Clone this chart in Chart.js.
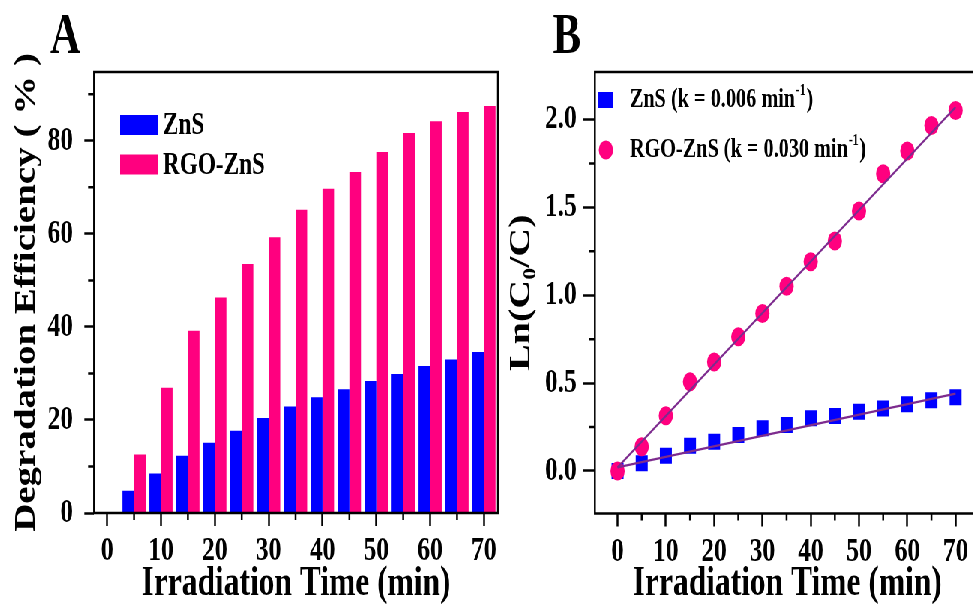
<!DOCTYPE html>
<html>
<head>
<meta charset="utf-8">
<script src="https://cdn.jsdelivr.net/npm/chart.js@4/dist/chart.umd.min.js"></script>
<style>
  body { margin: 0; background: #fff; }
  #outer { width: 973px; height: 605px; overflow: hidden; position: relative; background: #fff; }
  /* the original figure is squeezed sideways, so draw wide and compress */
  #wrap { position: absolute; left: 0; top: 0; width: 1340px; height: 605px; transform: scaleX(0.75); transform-origin: 0 0; }
  #chartA { position: absolute; left: 0; top: 0; }
  #chartB { position: absolute; left: 660px; top: 0; }
</style>
</head>
<body>
<div id="outer">
  <div id="wrap">
    <canvas id="chartA" width="700" height="605"></canvas>
    <canvas id="chartB" width="660" height="605"></canvas>
  </div>
</div>
<script>
// ---- panel A: degradation efficiency (%)
const timesA = [5, 10, 15, 20, 25, 30, 35, 40, 45, 50, 55, 60, 65, 70];
const znsEfficiency = [4.8, 8.5, 12.3, 15.1, 17.7, 20.4, 22.9, 24.9, 26.6, 28.4, 29.9, 31.6, 33.0, 34.6];
const rgoEfficiency = [12.6, 26.9, 39.2, 46.3, 53.5, 59.3, 65.2, 69.7, 73.3, 77.6, 81.7, 84.2, 86.2, 87.5];

// ---- panel B: Ln(C0/C)
const timesB = [0, 5, 10, 15, 20, 25, 30, 35, 40, 45, 50, 55, 60, 65, 70];
const znsLn = [0.0, 0.044, 0.087, 0.144, 0.166, 0.205, 0.243, 0.261, 0.30, 0.313, 0.337, 0.356, 0.38, 0.403, 0.419];
const rgoLn = [0.0, 0.138, 0.314, 0.507, 0.62, 0.763, 0.896, 1.051, 1.19, 1.308, 1.479, 1.691, 1.82, 1.966, 2.051];
const fitTimes = [0, 70];
const znsFit = [0.02, 0.44];
const rgoFit = [0.02, 2.07];
const rateLabels = ['0.006', '0.030'];

// ---- ticks
const timeTicks = [0, 10, 20, 30, 40, 50, 60, 70];
const timeMinor = [5, 15, 25, 35, 45, 55, 65];
const effTicks = [0, 20, 40, 60, 80];
const effMinor = [10, 30, 50, 70, 90];
const lnTicks = [0, 0.5, 1.0, 1.5, 2.0];
const lnMinor = [0.25, 0.75, 1.25, 1.75];

const BLUE = '#0000ff';
const PINK = '#ff007f';
const FIT = '#7d2b8e';
const FONT = 'Liberation Serif';

Chart.defaults.font.family = FONT;
Chart.defaults.font.weight = 'bold';
Chart.defaults.color = '#000';

// box around the plot area
const frame = {
  id: 'frame',
  afterDraw(chart) {
    const { ctx, chartArea: a } = chart;
    ctx.save();
    ctx.strokeStyle = '#000';
    ctx.lineWidth = 2.5;
    ctx.strokeRect(a.left, a.top, a.right - a.left, a.bottom - a.top);
    ctx.restore();
  }
};

// short ticks between the labelled ones
function minorTicks(xVals, yVals) {
  return {
    id: 'minorTicks',
    afterDraw(chart) {
      const { ctx, chartArea: a, scales } = chart;
      ctx.save();
      ctx.strokeStyle = '#000';
      ctx.lineWidth = 2.5;
      ctx.beginPath();
      xVals.forEach(v => {
        const px = scales.x.getPixelForValue(v);
        ctx.moveTo(px, a.bottom);
        ctx.lineTo(px, a.bottom + 7);
      });
      yVals.forEach(v => {
        const py = scales.y.getPixelForValue(v);
        ctx.moveTo(a.left, py);
        ctx.lineTo(a.left - 8, py);
      });
      ctx.stroke();
      ctx.restore();
    }
  };
}

function panelLetter(letter, x) {
  return {
    id: 'panelLetter',
    afterDraw(chart) {
      const ctx = chart.ctx;
      ctx.save();
      ctx.font = 'bold 56px ' + FONT;
      ctx.fillStyle = '#000';
      ctx.textBaseline = 'alphabetic';
      ctx.fillText(letter, x, 53);
      ctx.restore();
    }
  };
}

const legendA = {
  id: 'legendA',
  afterDraw(chart) {
    const ctx = chart.ctx;
    ctx.save();
    ctx.font = 'bold 31px ' + FONT;
    ctx.textBaseline = 'middle';
    chart.data.datasets.forEach((ds, i) => {
      const y = 125 + i * 39.5;
      ctx.fillStyle = ds.backgroundColor;
      ctx.fillRect(160, y - 10, 51, 20);
      ctx.fillStyle = '#000';
      ctx.fillText(ds.label, 217, y + 1);
    });
    ctx.restore();
  }
};

const legendB = {
  id: 'legendB',
  afterDraw(chart) {
    const ctx = chart.ctx;
    const marks = chart.data.datasets.filter(ds => !ds.showLine);
    ctx.save();
    ctx.textBaseline = 'middle';
    marks.forEach((ds, i) => {
      const y = 100 + i * 50;
      ctx.fillStyle = ds.backgroundColor;
      if (ds.pointStyle === 'rect') {
        ctx.fillRect(138, y - 8, 19, 16);
      } else {
        ctx.beginPath();
        ctx.arc(148, y, 9.5, 0, Math.PI * 2);
        ctx.fill();
      }
      ctx.fillStyle = '#000';
      ctx.font = 'bold 27px ' + FONT;
      const base = ds.label + ' (k = ' + rateLabels[i] + ' min';
      let x = 180;
      ctx.fillText(base, x, y);
      x += ctx.measureText(base).width;
      ctx.font = 'bold 16px ' + FONT;
      ctx.fillText('-1', x + 1, y - 9);
      x += ctx.measureText('-1').width + 2;
      ctx.font = 'bold 27px ' + FONT;
      ctx.fillText(')', x, y);
    });
    ctx.restore();
  }
};

function axisStyle(extra) {
  return Object.assign({
    type: 'linear',
    offset: false,
    border: { display: false }
  }, extra);
}

// ---------- chart A: bars
new Chart(document.getElementById('chartA'), {
  type: 'bar',
  data: {
    datasets: [
      {
        label: 'ZnS',
        data: timesA.map((t, i) => ({ x: t, y: znsEfficiency[i] })),
        backgroundColor: BLUE,
        categoryPercentage: 0.86,
        barPercentage: 1.0
      },
      {
        label: 'RGO-ZnS',
        data: timesA.map((t, i) => ({ x: t, y: rgoEfficiency[i] })),
        backgroundColor: PINK,
        categoryPercentage: 0.86,
        barPercentage: 1.0
      }
    ]
  },
  options: {
    responsive: false,
    animation: false,
    layout: { autoPadding: false, padding: { left: 0, right: 36, top: 72, bottom: 0 } },
    plugins: { legend: { display: false }, tooltip: { enabled: false } },
    scales: {
      x: axisStyle({
        min: -2.42,
        max: 72.6,
        afterBuildTicks: s => { s.ticks = timeTicks.map(v => ({ value: v })); },
        afterFit: s => { s.height = 92; },
        grid: { display: true, offset: false, drawOnChartArea: false, tickLength: 13, tickColor: '#000', tickWidth: 2.5 },
        ticks: { font: { size: 34 }, padding: 5, maxRotation: 0, autoSkip: false },
        title: { display: true, text: 'Irradiation Time (min)', font: { size: 42, lineHeight: 1 }, padding: { top: 0, bottom: 0 } }
      }),
      y: axisStyle({
        min: 0,
        max: 94.8,
        afterBuildTicks: s => { s.ticks = effTicks.map(v => ({ value: v })); },
        afterFit: s => { s.width = 125.3; },
        grid: { display: true, drawOnChartArea: false, tickLength: 13, tickColor: '#000', tickWidth: 2.5 },
        ticks: { font: { size: 34 }, padding: 15 },
        title: { display: true, text: 'Degradation Efficiency ( % )', font: { size: 39, lineHeight: 1 }, padding: { top: 16, bottom: 0 } }
      })
    }
  },
  plugins: [frame, minorTicks(timeMinor, effMinor), panelLetter('A', 66.7), legendA]
});

// ---------- chart B: kinetics
new Chart(document.getElementById('chartB'), {
  type: 'scatter',
  data: {
    datasets: [
      {
        label: 'ZnS fit',
        data: fitTimes.map((t, i) => ({ x: t, y: znsFit[i] })),
        showLine: true,
        borderColor: FIT,
        borderWidth: 2.2,
        pointRadius: 0,
        order: 0
      },
      {
        label: 'RGO-ZnS fit',
        data: fitTimes.map((t, i) => ({ x: t, y: rgoFit[i] })),
        showLine: true,
        borderColor: FIT,
        borderWidth: 2.2,
        pointRadius: 0,
        order: 0
      },
      {
        label: 'ZnS',
        data: timesB.map((t, i) => ({ x: t, y: znsLn[i] })),
        pointStyle: 'rect',
        pointRadius: 11.3,
        backgroundColor: BLUE,
        borderWidth: 0,
        order: 2
      },
      {
        label: 'RGO-ZnS',
        data: timesB.map((t, i) => ({ x: t, y: rgoLn[i] })),
        pointStyle: 'circle',
        pointRadius: 9.5,
        backgroundColor: PINK,
        borderWidth: 0,
        order: 1
      }
    ]
  },
  options: {
    responsive: false,
    animation: false,
    layout: { autoPadding: false, padding: { left: 0, right: 13.5, top: 72, bottom: 0 } },
    plugins: { legend: { display: false }, tooltip: { enabled: false } },
    scales: {
      x: axisStyle({
        min: -4.7,
        max: 75,
        afterBuildTicks: s => { s.ticks = timeTicks.map(v => ({ value: v })); },
        afterFit: s => { s.height = 91.5; },
        grid: { display: true, drawOnChartArea: false, tickLength: 13, tickColor: '#000', tickWidth: 2.5 },
        ticks: { font: { size: 34 }, padding: 5, maxRotation: 0, autoSkip: false },
        title: { display: true, text: 'Irradiation Time (min)', font: { size: 42, lineHeight: 1 }, padding: { top: 0, bottom: 0 } }
      }),
      y: axisStyle({
        min: -0.242,
        max: 2.27,
        afterBuildTicks: s => { s.ticks = lnTicks.map(v => ({ value: v })); },
        afterFit: s => { s.width = 133.3; },
        grid: { display: true, drawOnChartArea: false, tickLength: 16, tickColor: '#000', tickWidth: 2.5 },
        ticks: { font: { size: 34 }, padding: 8, callback: v => v.toFixed(1) },
        title: { display: true, text: 'Ln(C\u2080/C)', font: { size: 40, lineHeight: 1 }, padding: { top: 16, bottom: 0 } }
      })
    }
  },
  plugins: [frame, minorTicks(timeMinor, lnMinor), panelLetter('B', 77.3), legendB]
});
</script>
</body>
</html>
